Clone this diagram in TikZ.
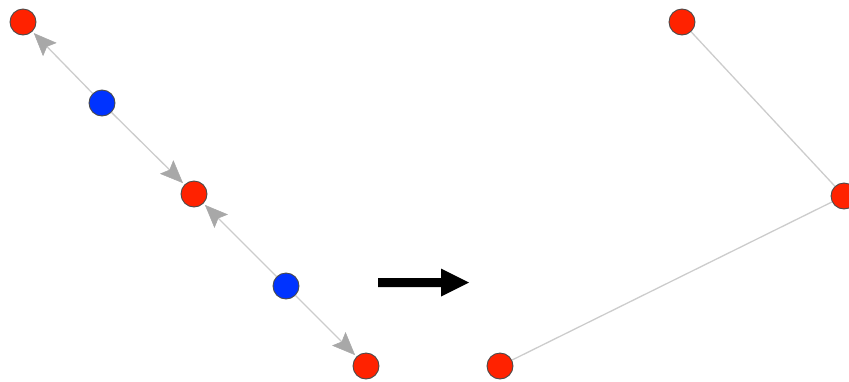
\documentclass[tikz,border=0pt]{standalone}
\usetikzlibrary{arrows.meta}
\definecolor{nred}{HTML}{FF2200}
\definecolor{nblue}{HTML}{0033FF}
\definecolor{nborder}{HTML}{4A4A4A}
\definecolor{edgegray}{HTML}{CCCCCC}
\definecolor{tipgray}{HTML}{A8A8A8}
\tikzset{
  gtip/.tip={Stealth[length=23pt,width=19pt,inset=4pt,color=tipgray,fill=tipgray,line width=0.5pt]}
}
\begin{document}
\begin{tikzpicture}[x=1pt,y=-1pt,
  vtx/.style={circle,draw=nborder,line width=0.9pt,minimum size=26pt,inner sep=0pt},
  rv/.style={vtx,fill=nred},
  bv/.style={vtx,fill=nblue},
  gline/.style={draw=edgegray,line width=1.3pt},
  dline/.style={gline,-gtip,shorten >=2pt}]
\useasboundingbox (0,0) rectangle (849,381);
\node[rv] (r1) at (23,22) {};
\node[bv] (b1) at (102,103) {};
\node[rv] (r2) at (194,194) {};
\node[bv] (b2) at (286,286) {};
\node[rv] (r3) at (366,366) {};
\node[rv] (s1) at (682,22) {};
\node[rv] (s2) at (844,196) {};
\node[rv] (s3) at (500,366) {};
\draw[dline] (b1) -- (r1);
\draw[dline] (b1) -- (r2);
\draw[dline] (b2) -- (r2);
\draw[dline] (b2) -- (r3);
\draw[gline] (s1) -- (s2);
\draw[gline] (s2) -- (s3);
\coordinate (a1) at (378,278);
\coordinate (a2) at (441,278);
\coordinate (a3) at (441,268.5);
\coordinate (a4) at (469,282.5);
\coordinate (a5) at (441,296.5);
\coordinate (a6) at (441,287);
\coordinate (a7) at (378,287);
\fill[black] (a1) -- (a2) -- (a3) -- (a4) -- (a5) -- (a6) -- (a7) -- cycle;
\end{tikzpicture}
\end{document}
